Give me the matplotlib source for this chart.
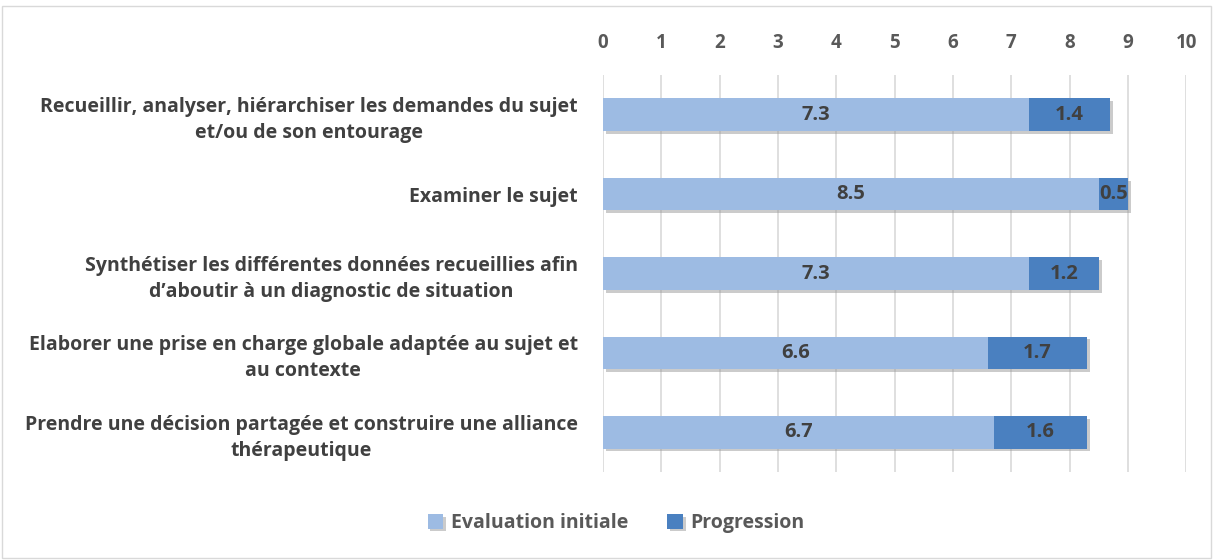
import matplotlib.pyplot as plt
import matplotlib.patheffects as pe
from matplotlib.patches import Rectangle

categories = [
    "Recueillir, analyser, hiérarchiser les demandes du sujet\net/ou de son entourage",
    "Examiner le sujet",
    "Synthétiser les différentes données recueillies afin\nd\u2019aboutir à un diagnostic de situation",
    "Elaborer une prise en charge globale adaptée au sujet et\nau contexte",
    "Prendre une décision partagée et construire une alliance\nthérapeutique",
]
initiale = [7.3, 8.5, 7.3, 6.6, 6.7]
progression = [1.4, 0.5, 1.2, 1.7, 1.6]

c_init = "#9dbbe3"
c_prog = "#4a80c0"
txt = "#404040"
tick_c = "#595959"

plt.rcParams['font.family'] = ['Open Sans', 'DejaVu Sans']
plt.rcParams['font.weight'] = 'bold'

fig = plt.figure(figsize=(12.13, 5.6), dpi=100)
ax = fig.add_axes([0.497, 0.157, 0.481, 0.709])

y = list(range(len(categories)))
shadow = [pe.SimplePatchShadow(offset=(2, -2), shadow_rgbFace='#999999', alpha=0.5), pe.Normal()]
b1 = ax.barh(y, initiale, height=0.41, color=c_init, label="Evaluation initiale", zorder=3,
             path_effects=shadow)
b2 = ax.barh(y, progression, left=initiale, height=0.41, color=c_prog, label="Progression",
             zorder=3, path_effects=shadow)

for i in range(len(y)):
    ax.text(initiale[i] / 2, y[i], f"{initiale[i]:.1f}", ha='center', va='center',
            color=txt, fontsize=14.5, fontweight='bold', zorder=4)
    ax.text(initiale[i] + progression[i] / 2, y[i], f"{progression[i]:.1f}", ha='center',
            va='center', color=txt, fontsize=14.5, fontweight='bold', zorder=4)

ax.set_xlim(0, 10)
ax.set_ylim(4.5, -0.5)
ax.set_xticks(range(0, 11))
ax.xaxis.tick_top()
ax.tick_params(axis='x', length=0, pad=16, labelsize=13.5, labelcolor=tick_c)
ax.tick_params(axis='y', length=0, pad=18, labelsize=14, labelcolor=txt)
ax.set_yticks(y)
ax.set_yticklabels(categories, multialignment='center', linespacing=1.4, fontweight='bold')
ax.grid(axis='x', color='#d9d9d9', linewidth=1.2, zorder=0)
for s in ax.spines.values():
    s.set_visible(False)

leg = fig.legend(handles=[b1, b2], loc='center', bbox_to_anchor=(0.508, 0.066), ncol=2,
                 frameon=False, handlelength=0.8, handleheight=0.8,
                 columnspacing=2.0, handletextpad=0.4,
                 prop={'size': 14, 'weight': 'bold'})
for t in leg.get_texts():
    t.set_color(tick_c)

fig.patches.append(Rectangle((0.002, 0.004), 0.996, 0.985, transform=fig.transFigure,
                             fill=False, edgecolor='#d9d9d9', linewidth=1))

fig.savefig("out.png", dpi=100)
